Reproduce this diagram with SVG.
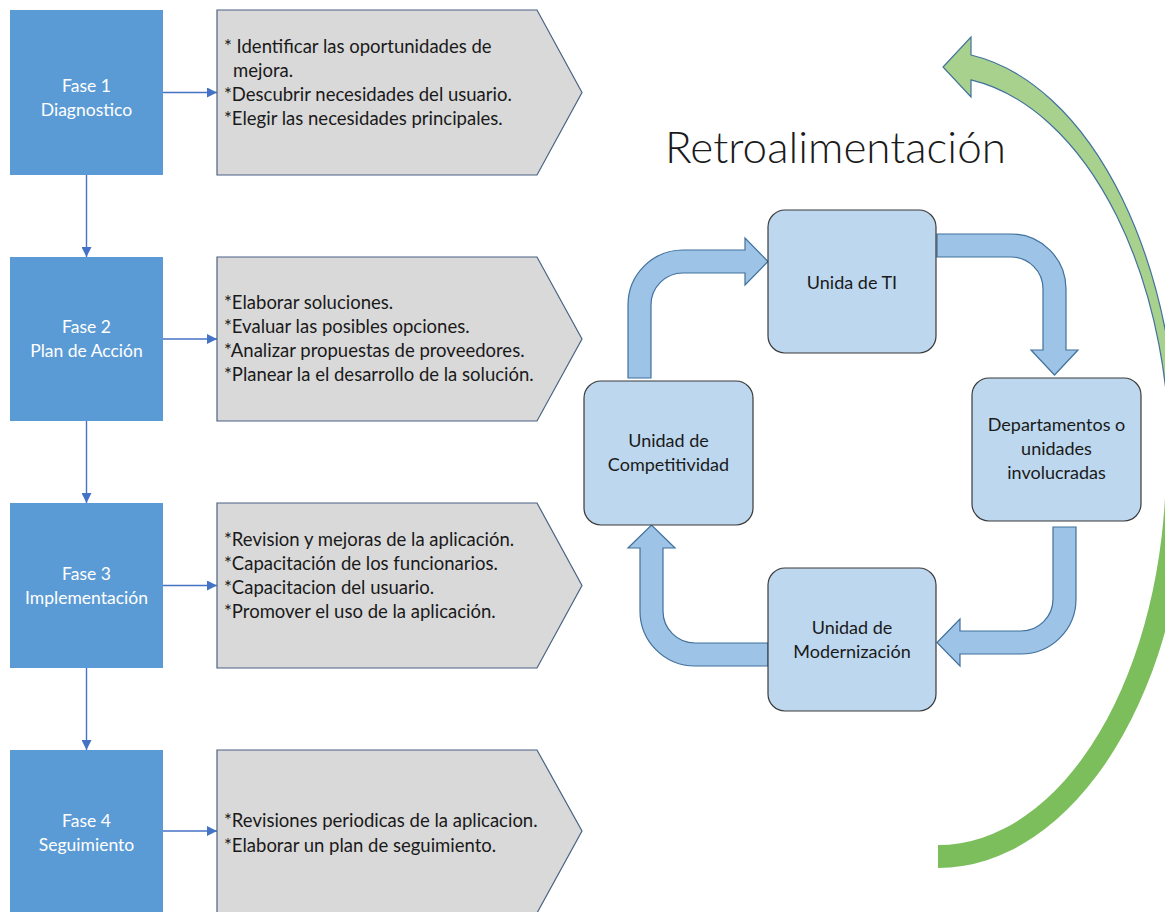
<svg xmlns="http://www.w3.org/2000/svg" width="1165" height="912" viewBox="0 0 1165 912">
<defs>
<style>
.fase{fill:#5B9BD5;}
.ft{font-family:Lato,"Liberation Sans",sans-serif;font-size:17.5px;fill:#ffffff;text-anchor:middle;}
.pent{fill:#D9D9D9;stroke:#4A6283;stroke-width:1.2;}
.pt{font-family:Lato,"Liberation Sans",sans-serif;font-size:18.5px;fill:#1a1a1a;}
.cbox{fill:#BDD7EE;stroke:#3a3a3a;stroke-width:1.2;}
.ct{font-family:Lato,"Liberation Sans",sans-serif;font-size:18px;fill:#1a1a1a;text-anchor:middle;}
.thick{fill:#9DC3E6;stroke:#41719C;stroke-width:1.2;}
.conn{stroke:#4472C4;stroke-width:1.4;fill:none;marker-end:url(#ah);}
</style>
<marker id="ah" viewBox="0 0 10 10" refX="10" refY="5" markerWidth="10" markerHeight="10" markerUnits="userSpaceOnUse" orient="auto">
<path d="M0,0 L10,5 L0,10 Z" fill="#4472C4"/>
</marker>
</defs>
<rect width="1165" height="912" fill="#ffffff"/>

<g id="connectors">
<line class="conn" x1="163" y1="92.5" x2="217" y2="92.5"/>
<line class="conn" x1="163" y1="339" x2="217" y2="339"/>
<line class="conn" x1="163" y1="585.5" x2="217" y2="585.5"/>
<line class="conn" x1="163" y1="831" x2="217" y2="831"/>
<line class="conn" x1="86.5" y1="175" x2="86.5" y2="257"/>
<line class="conn" x1="86.5" y1="421" x2="86.5" y2="503"/>
<line class="conn" x1="86.5" y1="668" x2="86.5" y2="750"/>
<path class="thick" d="M628,378 L628,305 A55,55 0 0 1 683,250 L745,250 L745,238 L768,261.5 L745,285 L745,273 L683,273 A32,32 0 0 0 651,305 L651,378 Z"/>
<path class="thick" d="M937,234 L1011,234 A55,55 0 0 1 1066,289 L1066,350 L1078,350 L1054.5,375 L1031,350 L1043,350 L1043,289 A32,32 0 0 0 1011,257 L937,257 Z"/>
<path class="thick" d="M1053,527 L1076,527 L1076,599 A55,55 0 0 1 1021,654 L960,654 L960,666 L937,642.5 L960,619 L960,631 L1021,631 A32,32 0 0 0 1053,599 Z"/>
<path class="thick" d="M768,666 L695,666 A55,55 0 0 1 640,611 L640,548 L628,548 L651.5,525 L675,548 L663,548 L663,611 A32,32 0 0 0 695,643 L768,643 Z"/>
<g id="feedback-arrow">
<path d="M938,868 A250,406 0 0 0 1188,462 L1166,462 A228,383 0 0 1 938,845 Z" fill="#7DBE5C"/>
<path d="M971,55 L971,37 L943,67 L971,97 L971,79.9 A232,386 0 0 1 1169.7,480 L1177.8,480 A240,411 0 0 0 971,55 Z" fill="#A9D18E" stroke="#41719C" stroke-width="1.2"/>
</g>
</g>

<g id="fase1">
<rect class="fase" x="10" y="10" width="153" height="165"/>
<text class="ft" x="86.5" y="92">Fase 1</text>
<text class="ft" x="86.5" y="116">Diagnostico</text>
</g>
<g id="fase2">
<rect class="fase" x="10" y="257" width="153" height="164"/>
<text class="ft" x="86.5" y="333">Fase 2</text>
<text class="ft" x="86.5" y="357">Plan de Acción</text>
</g>
<g id="fase3">
<rect class="fase" x="10" y="503" width="153" height="165"/>
<text class="ft" x="86.5" y="580">Fase 3</text>
<text class="ft" x="86.5" y="604">Implementación</text>
</g>
<g id="fase4">
<rect class="fase" x="10" y="750" width="153" height="163"/>
<text class="ft" x="86.5" y="827">Fase 4</text>
<text class="ft" x="86.5" y="851">Seguimiento</text>
</g>

<g id="tareas1">
<path class="pent" d="M217,10 L537,10 L582,92.5 L537,175 L217,175 Z"/>
<text class="pt" x="224" y="53">* Identificar las oportunidades de</text>
<text class="pt" x="233" y="77">mejora.</text>
<text class="pt" x="224" y="101">*Descubrir necesidades del usuario.</text>
<text class="pt" x="224" y="125">*Elegir las necesidades principales.</text>
</g>
<g id="tareas2">
<path class="pent" d="M217,257 L537,257 L582,339 L537,421 L217,421 Z"/>
<text class="pt" x="224" y="309">*Elaborar soluciones.</text>
<text class="pt" x="224" y="333">*Evaluar las posibles opciones.</text>
<text class="pt" x="224" y="357">*Analizar propuestas de proveedores.</text>
<text class="pt" x="224" y="381">*Planear la el desarrollo de la solución.</text>
</g>
<g id="tareas3">
<path class="pent" d="M217,503 L537,503 L582,585.5 L537,668 L217,668 Z"/>
<text class="pt" x="224" y="546">*Revision y mejoras de la aplicación.</text>
<text class="pt" x="224" y="570">*Capacitación de los funcionarios.</text>
<text class="pt" x="224" y="594">*Capacitacion del usuario.</text>
<text class="pt" x="224" y="618">*Promover el uso de la aplicación.</text>
</g>
<g id="tareas4">
<path class="pent" d="M217,750 L537,750 L582,831 L537,913 L217,913 Z"/>
<text class="pt" x="224" y="827">*Revisiones periodicas de la aplicacion.</text>
<text class="pt" x="224" y="852">*Elaborar un plan de seguimiento.</text>
</g>

<g id="titulo">
<text x="665" y="163" font-family="Lato,'Liberation Sans',sans-serif" font-size="44" font-weight="300" fill="#1a1a1a">Retroalimentación</text>
</g>

<g id="unidad-ti">
<rect class="cbox" x="768" y="210" width="168" height="143" rx="17"/>
<text class="ct" x="852" y="289">Unida de TI</text>
</g>
<g id="departamentos">
<rect class="cbox" x="972" y="378" width="169" height="143" rx="17"/>
<text class="ct" x="1056.5" y="431">Departamentos o</text>
<text class="ct" x="1056.5" y="455">unidades</text>
<text class="ct" x="1056.5" y="479">involucradas</text>
</g>
<g id="modernizacion">
<rect class="cbox" x="768" y="568" width="168" height="143" rx="17"/>
<text class="ct" x="852" y="634">Unidad de</text>
<text class="ct" x="852" y="658">Modernización</text>
</g>
<g id="competitividad">
<rect class="cbox" x="584" y="381" width="169" height="144" rx="17"/>
<text class="ct" x="668.5" y="447">Unidad de</text>
<text class="ct" x="668.5" y="471">Competitividad</text>
</g>
</svg>
